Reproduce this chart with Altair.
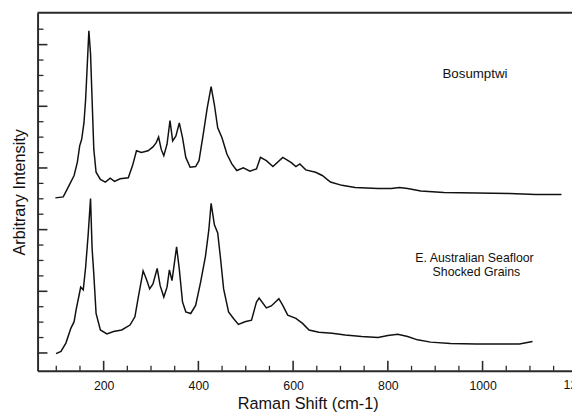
import altair as alt
import pandas as pd

# Bosumptwi spectrum (upper trace)
bos_x = [98, 114.7, 127.1, 137.6, 144.4, 149.4, 153.6, 158.4, 161.9, 165.2, 168.8, 172.3, 175.6, 179.2,
         184.0, 193.1, 203.5, 213.9, 222.9, 234.8, 252.0, 261.0, 269.3, 279.7, 293.7, 304.1, 311.0,
         316.0, 321.4, 327.0, 333.8, 340.1, 345.7, 352.6, 359.7, 366.5, 373.4, 382.6, 394.2, 401.3,
         410.2, 418.6, 426.9, 433.8, 440.8, 449.8, 460.2, 470.6, 481.0, 495.0, 508.7, 522.6, 531.0,
         543.5, 557.4, 578.2, 595.5, 605.9, 614.2, 626.7, 647.5, 661.5, 678.8, 703.1, 730.8, 779.3,
         807.2, 824.5, 841.7, 869.6, 918.2, 987.5, 1057.0, 1112.4, 1166.5]
bos_y = [2.515, 2.531, 2.718, 2.878, 3.091, 3.358, 3.465, 3.730, 4.105, 4.637, 5.224, 4.850, 4.105, 3.305,
         2.931, 2.814, 2.771, 2.835, 2.782, 2.825, 2.840, 3.038, 3.278, 3.251, 3.278, 3.342, 3.411,
         3.502, 3.305, 3.198, 3.385, 3.769, 3.438, 3.518, 3.730, 3.491, 3.171, 3.011, 3.022, 3.118,
         3.545, 3.970, 4.318, 4.025, 3.651, 3.491, 3.225, 3.065, 2.958, 3.001, 2.947, 2.985, 3.171,
         3.118, 3.022, 3.171, 3.091, 3.022, 3.065, 2.969, 2.931, 2.878, 2.771, 2.718, 2.682, 2.666,
         2.666, 2.682, 2.666, 2.627, 2.602, 2.595, 2.586, 2.570, 2.570]

# E. Australian seafloor shocked grains (lower trace)
sea_x = [99.5, 109.9, 120.3, 130.7, 137.6, 142.3, 148.0, 151.5, 156.9, 161.9, 167.3, 172.3, 175.6, 179.2,
         184.0, 193.1, 206.9, 220.8, 238.1, 255.6, 266.0, 272.9, 283.3, 290.1, 297.2, 304.1, 313.0,
         319.3, 327.0, 333.8, 338.8, 344.3, 354.0, 359.7, 366.5, 373.4, 383.8, 394.2, 404.6, 415.0,
         422.1, 426.9, 433.8, 440.8, 446.2, 453.3, 463.7, 474.1, 484.5, 498.3, 512.2, 522.6, 528.2,
         543.5, 553.9, 569.9, 578.2, 588.6, 605.9, 619.9, 633.6, 654.4, 682.3, 710.0, 744.7, 779.3,
         800.1, 821.0, 841.7, 862.6, 890.4, 932.1, 987.5, 1043.0, 1077.8, 1105.5]
sea_y = [-0.01, 0.027, 0.160, 0.400, 0.507, 0.720, 0.932, 1.067, 1.023, 1.386, 1.919, 2.506, 1.695, 1.279,
         0.640, 0.373, 0.309, 0.347, 0.373, 0.453, 0.587, 0.895, 1.332, 1.199, 1.039, 1.119, 1.370,
         1.092, 0.907, 1.067, 1.348, 1.172, 1.722, 1.359, 0.827, 0.667, 0.640, 0.772, 1.146, 1.572,
         1.999, 2.426, 2.079, 1.946, 1.572, 1.039, 0.667, 0.560, 0.464, 0.507, 0.533, 0.827, 0.891,
         0.731, 0.763, 0.880, 0.772, 0.613, 0.560, 0.480, 0.373, 0.336, 0.320, 0.293, 0.267, 0.251,
         0.283, 0.304, 0.267, 0.213, 0.176, 0.155, 0.144, 0.144, 0.144, 0.187]

x_major = [200, 400, 600, 800, 1000]
x_minor = [100, 150, 250, 300, 350, 450, 500, 550, 650, 700, 750, 850, 900, 950, 1050, 1100, 1150]
x_cut_label = [1200]
y_major = [0, 1, 2, 3, 4, 5]
y_minor = [0.25, 0.5, 0.75, 1.25, 1.5, 1.75, 2.25, 2.5, 2.75, 3.25, 3.5, 3.75,
           4.25, 4.5, 4.75, 5.25]

label_text = ["Bosumptwi", "E. Australian Seafloor", "Shocked Grains"]
label_x = [984, 983, 987]
label_y = [4.525, 1.543, 1.311]
label_size = [13.5, 12.5, 12.5]

W, H = 542, 363
FONT = "Liberation Sans, Arial, Helvetica, sans-serif"
FRAME = "#2a2a2a"

xs = alt.Scale(domain=[60.5, 1188.8], nice=False, zero=False)
ys = alt.Scale(domain=[-0.288, 5.516], nice=False, zero=False)

spec = pd.DataFrame({
    "shift": bos_x + sea_x,
    "intensity": bos_y + sea_y,
    "sample": ["Bosumptwi"] * len(bos_x) + ["Seafloor"] * len(sea_x),
})

x_axis = alt.Axis(values=x_major, format="d", ticks=False, tickSize=0, grid=False,
                  domainColor=FRAME, domainWidth=2,
                  labelFont=FONT, labelFontSize=12.5, labelColor="#111",
                  labelPadding=9, labelFlush=False,
                  titleFont=FONT, titleFontSize=16.5, titleFontWeight="normal",
                  titleColor="#111", titleX=274, titleY=38,
                  titleAlign="center", titleBaseline="alphabetic")
y_axis = alt.Axis(values=y_major, ticks=False, tickSize=0, labels=False, grid=False,
                  domainColor=FRAME, domainWidth=2,
                  titleFont=FONT, titleFontSize=16.5, titleFontWeight="normal",
                  titleColor="#111", titleX=-18, titleY=181.5, titleAngle=270,
                  titleAlign="center", titleBaseline="middle")
XT = "Raman Shift (cm-1)"
YT = "Arbitrary Intensity"

lines = alt.Chart(spec).mark_line(color="#111111", strokeWidth=1.5).encode(
    x=alt.X("shift:Q", scale=xs, title=XT, axis=x_axis),
    y=alt.Y("intensity:Q", scale=ys, title=YT, axis=y_axis),
    detail="sample:N",
)

top_border = alt.Chart(pd.DataFrame({"k": [0]})).mark_rule(
    color=FRAME, strokeWidth=2).encode(
    x=alt.value(0), x2=alt.value(W), y=alt.value(0))

ymaj = alt.Chart(pd.DataFrame({"intensity": y_major})).mark_rule(color=FRAME, strokeWidth=1.6).encode(
    y=alt.Y("intensity:Q", scale=ys, title=YT), x=alt.value(0), x2=alt.value(10))
ymin = alt.Chart(pd.DataFrame({"intensity": y_minor})).mark_rule(color=FRAME, strokeWidth=1.3).encode(
    y=alt.Y("intensity:Q", scale=ys, title=YT), x=alt.value(0), x2=alt.value(6))
xmaj = alt.Chart(pd.DataFrame({"shift": x_major})).mark_rule(color=FRAME, strokeWidth=1.6).encode(
    x=alt.X("shift:Q", scale=xs, title=XT), y=alt.value(H), y2=alt.value(H - 10))
xmin = alt.Chart(pd.DataFrame({"shift": x_minor})).mark_rule(color=FRAME, strokeWidth=1.3).encode(
    x=alt.X("shift:Q", scale=xs, title=XT), y=alt.value(H), y2=alt.value(H - 5))

cut = alt.Chart(pd.DataFrame({"shift": x_cut_label, "t": ["1200"]})).mark_text(
    font=FONT, fontSize=12.5, color="#111", baseline="top", align="center").encode(
    x=alt.X("shift:Q", scale=xs, title=XT), y=alt.value(H + 9), text="t:N")

ann = alt.Chart(pd.DataFrame({"t": label_text, "shift": label_x, "intensity": label_y,
                              "s": label_size})).mark_text(
    font=FONT, color="#111", baseline="middle", align="center").encode(
    x=alt.X("shift:Q", scale=xs, title=XT), y=alt.Y("intensity:Q", scale=ys, title=YT),
    text="t:N", size=alt.Size("s:Q", scale=None, legend=None))

chart = alt.layer(lines, top_border, ymaj, ymin, xmaj, xmin, cut, ann).properties(
    width=W, height=H,
    autosize=alt.AutoSizeParams(type="none"),
    padding={"left": 30, "top": 2, "right": 0, "bottom": 40},
    background="white",
).configure_view(stroke=None)

chart.save("out.html", embed_options={"renderer": "svg", "actions": False})
